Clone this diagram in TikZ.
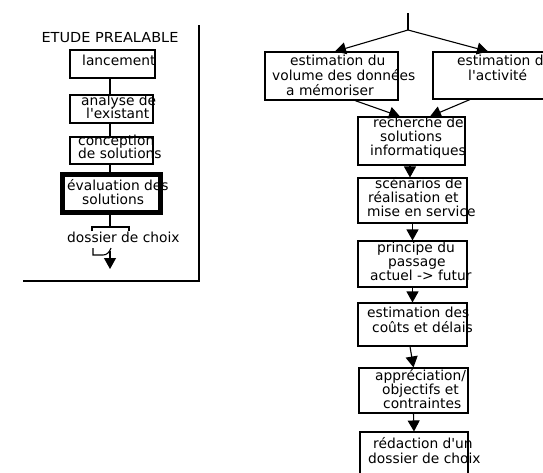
\documentclass[tikz,border=0pt]{standalone}
\usepackage{fontspec}
\usepackage{graphicx}
\newfontfamily\dvs{DejaVu Sans}
\usetikzlibrary{arrows.meta}
\begin{document}
\begin{tikzpicture}[x=1pt,y=-1pt,
  box/.style={draw, line width=1.1pt, inner sep=0pt},
  txt/.style={font=\dvs\fontsize{13.8}{15}\selectfont, inner sep=0pt, anchor=base west},
  ln/.style={line width=1.1pt},
  arr/.style={line width=1.1pt, -{Triangle[width=12pt,length=11pt]}}]
\useasboundingbox (0,0) rectangle (543,472);
\clip (0,0) rectangle (543,472);

% ---------------- left panel ----------------
\coordinate (frameTop) at (199,25);
\coordinate (frameCorner) at (199,281);
\coordinate (frameLeft) at (23,281);
\draw[ln] (frameTop) -- (frameCorner) -- (frameLeft);

\node[txt, anchor=base] (title) at (110,42) {\scalebox{1.05}[1]{ETUDE PREALABLE}};

\node[box, minimum width=85pt, minimum height=28pt] (L1) at (112.5,64) {};
\node[box, minimum width=83pt, minimum height=28pt] (L2) at (111.5,109) {};
\node[box, minimum width=83pt, minimum height=27pt] (L3) at (111.5,150.5) {};
\node[draw, line width=5pt, inner sep=0pt, minimum width=98pt, minimum height=38pt] (L4) at (111.5,193.5) {};

\coordinate (sx) at (110,0);
\draw[ln] (L1.south -| sx) -- (L2.north -| sx);
\draw[ln] (L2.south -| sx) -- (L3.north -| sx);
\draw[ln] (L3.south -| sx) -- (L4.north -| sx);
\coordinate (brk) at (110,227);
\coordinate (brkL) at (92,227);
\coordinate (brkR) at (129,227);
\draw[ln] (L4.south -| sx) -- (brk);
\draw[ln] ([yshift=-4pt]brkL) -- (brkL) -- (brkR) -- ([yshift=-4pt]brkR);

\node[txt] (t1) at (82,65) {lancement};
\node[txt] (t2a) at (81,105) {analyse de};
\node[txt] (t2b) at (86,118) {l'existant};
\node[txt] (t3a) at (78,145) {conception};
\node[txt] (t3b) at (78,158) {de solutions};
\node[txt] (t4a) at (67,190) {évaluation des};
\node[txt] (t4b) at (82,204) {solutions};
\node[txt] (t5) at (67,242) {dossier de choix};

\coordinate (cA) at (93,248);
\coordinate (cB) at (93,255);
\coordinate (cC) at (103,255);
\coordinate (cD) at (111,248);
\draw[ln] (cA) -- (cB) -- (cC) to[out=0,in=-110] (cD);
\coordinate (outTop) at (110,251);
\coordinate (outTip) at (110,269);
\draw[arr] (outTop) -- (outTip);

% ---------------- right panel ----------------
\node[box, minimum width=133pt, minimum height=48pt] (B1) at (331.5,76) {};
\node[box, minimum width=132pt, minimum height=47pt] (B2) at (499,75.5) {};
\node[box, minimum width=107pt, minimum height=48pt] (B3) at (411.5,141) {};
\node[box, minimum width=109pt, minimum height=45pt] (B4) at (412.5,200.5) {};
\node[box, minimum width=109pt, minimum height=46pt] (B5) at (412.5,264) {};
\node[box, minimum width=109pt, minimum height=43pt] (B6) at (412.5,324.5) {};
\node[box, minimum width=109pt, minimum height=45pt] (B7) at (413.5,390.5) {};
\node[box, minimum width=108pt, minimum height=58pt] (B8) at (414,461) {};

\coordinate (top) at (408,13);
\coordinate (split) at (408,30);
\draw[ln] (top) -- (split);
\draw[arr] (split) -- ([xshift=3.5pt]B1.north);
\draw[arr] (split) -- ([xshift=-11pt]B2.north);
\draw[arr] ([xshift=23.5pt]B1.south) -- ([xshift=-11.5pt]B3.north);
\draw[arr] ([xshift=-29pt]B2.south) -- ([xshift=18.5pt]B3.north);
\draw[arr] ([xshift=-1.5pt]B3.south) -- ([xshift=-1.5pt]B3.south |- B4.north);
\draw[arr] (B4.south) -- (B5.north);
\draw[arr] (B5.south) -- (B6.north);
\draw[arr] ([xshift=-2.5pt]B6.south) -- (B7.north);
\draw[arr] (B7.south) -- (B8.north);

\node[txt] (r1a) at (290,65) {estimation du};
\node[txt] (r1b) at (272,80) {volume des données};
\node[txt] (r1c) at (286,95) {a mémoriser};
\node[txt] (r2a) at (457,65) {estimation de};
\node[txt] (r2b) at (468,80) {l'activité};
\node[txt] (r3a) at (373,127) {recherche de};
\node[txt] (r3b) at (380,141) {solutions};
\node[txt] (r3c) at (370,155) {informatiques};
\node[txt] (r4a) at (375,188) {scénarios de};
\node[txt] (r4b) at (368,202) {réalisation et};
\node[txt] (r4c) at (367,216) {mise en service};
\node[txt] (r5a) at (377,252) {principe du};
\node[txt] (r5b) at (388,266) {passage};
\node[txt] (r5c) at (370,280) {actuel -> futur};
\node[txt] (r6a) at (367,317) {estimation des};
\node[txt] (r6b) at (372,332) {coûts et délais};
\node[txt] (r7a) at (375,380) {appréciation/};
\node[txt] (r7b) at (382,394) {objectifs et};
\node[txt] (r7c) at (383,408) {contraintes};
\node[txt] (r8a) at (373,448) {rédaction d'un};
\node[txt] (r8b) at (368,463) {dossier de choix};
\end{tikzpicture}
\end{document}
